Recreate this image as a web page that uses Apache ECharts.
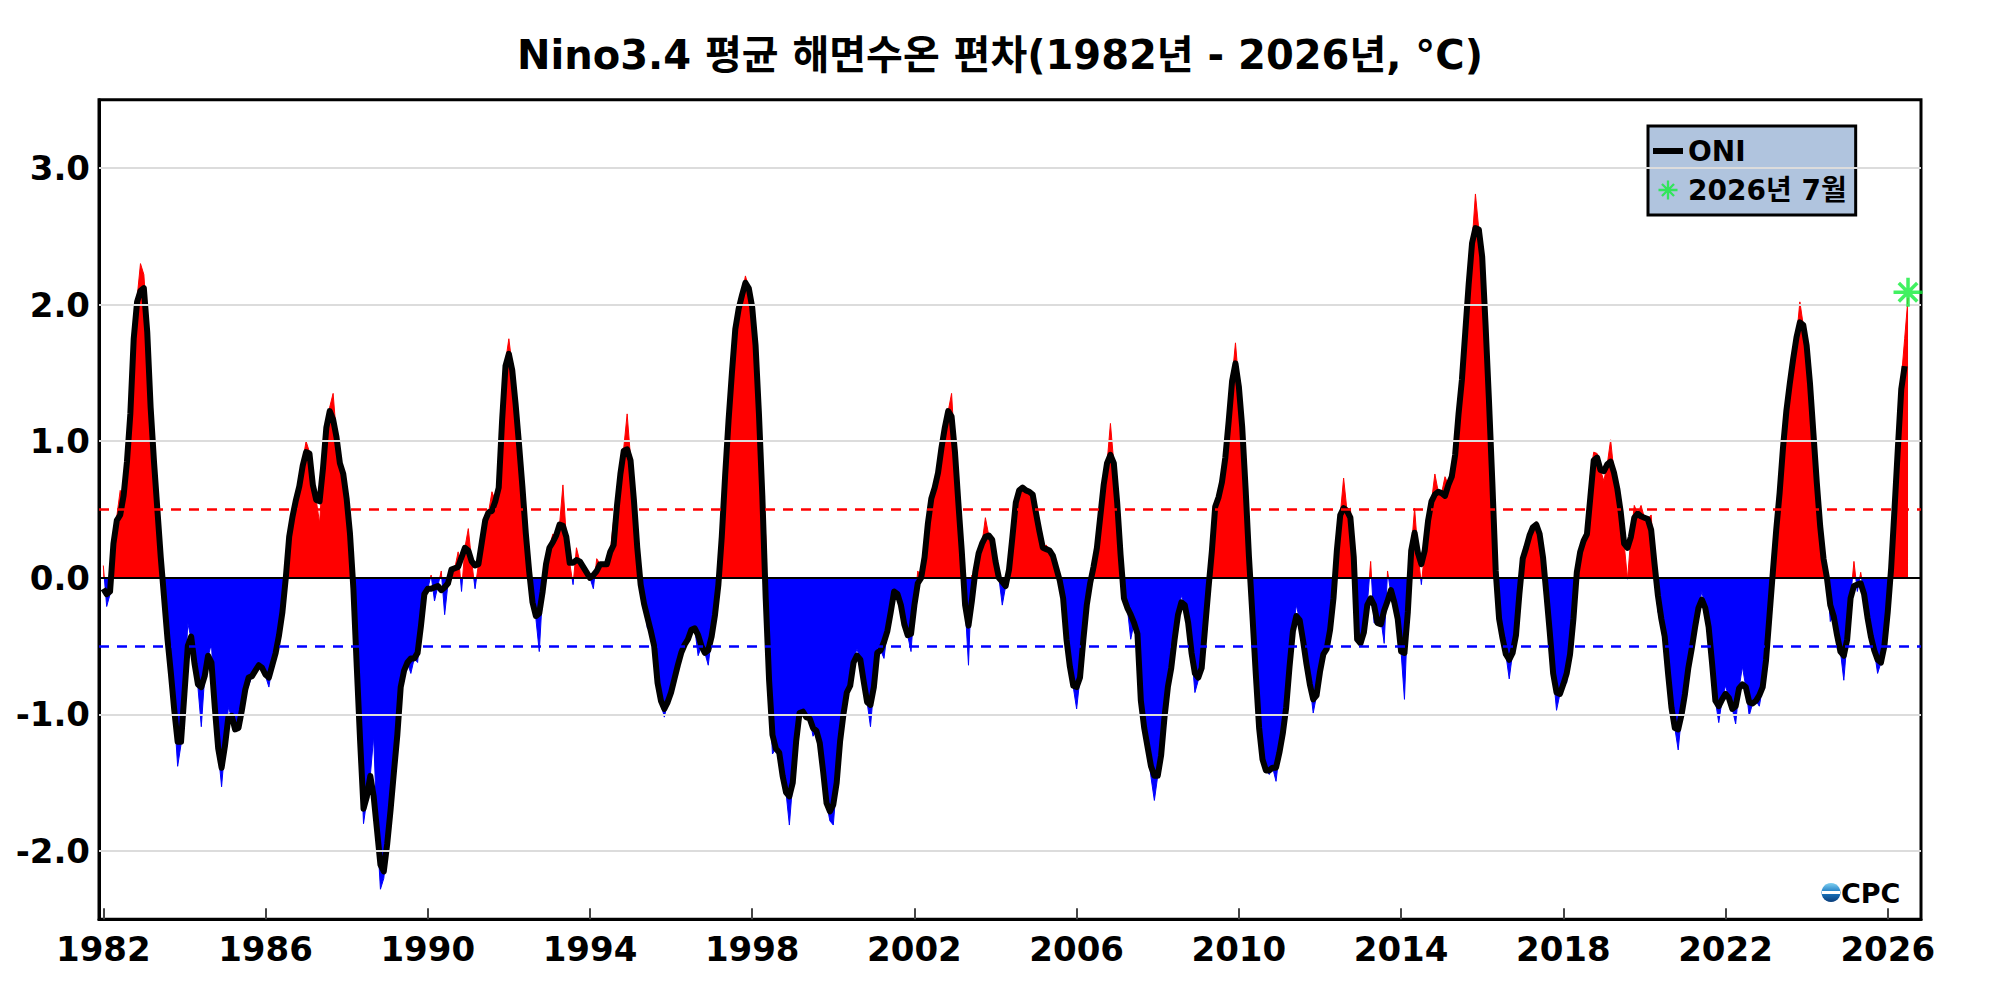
<!DOCTYPE html>
<html>
<head>
<meta charset="utf-8">
<script src="https://cdn.jsdelivr.net/npm/echarts@6/dist/echarts.min.js"></script>
<style>
html,body{margin:0;padding:0;background:#fff;}
#chart{width:2000px;height:1000px;}
</style>
</head>
<body>
<div id="chart"></div>
<script>
// ---------------- data ----------------
const startYear = 1982;               // first month = January 1982
const xTicks = [1982, 1986, 1990, 1994, 1998, 2002, 2006, 2010, 2014, 2018, 2022, 2026];
const yTicks = [-2, -1, 0, 1, 2, 3];
const thresholds = [0.5, -0.5];

// monthly Nino3.4 SST anomaly (filled area), one row per year
const monthlyAnomaly = [
  [0.09, -0.21, -0.12, 0.25, 0.45, 0.64, 0.6, 0.88, 1.25, 1.8, 2.05, 2.3],          // 1982
  [2.22, 1.85, 1.3, 0.85, 0.5, 0.15, -0.15, -0.45, -0.72, -1.0, -1.38, -1.22],     // 1983
  [-0.85, -0.33, -0.45, -0.65, -0.8, -1.09, -0.72, -0.58, -0.48, -0.97, -1.27, -1.53], // 1984
  [-1.23, -0.95, -1.02, -1.12, -1.1, -0.98, -0.83, -0.79, -0.72, -0.68, -0.64, -0.66], // 1985
  [-0.72, -0.8, -0.64, -0.55, -0.42, -0.25, 0.02, 0.3, 0.47, 0.58, 0.68, 0.85],    // 1986
  [1.0, 0.92, 0.68, 0.57, 0.4, 0.8, 1.12, 1.25, 1.35, 1.04, 0.85, 0.76],           // 1987
  [0.58, 0.34, 0.02, -0.65, -1.2, -1.8, -1.62, -1.45, -1.16, -1.85, -2.28, -2.2],  // 1988
  [-1.95, -1.7, -1.42, -1.15, -0.8, -0.68, -0.62, -0.7, -0.59, -0.62, -0.35, -0.12], // 1989
  [-0.08, 0.02, -0.17, -0.06, 0.05, -0.27, -0.04, 0.06, 0.07, 0.19, -0.1, 0.22],   // 1990
  [0.36, 0.12, -0.08, 0.1, 0.26, 0.42, 0.48, 0.63, 0.56, 0.68, 1.2, 1.58],         // 1991
  [1.75, 1.55, 1.28, 0.98, 0.67, 0.33, 0.05, -0.2, -0.3, -0.54, -0.1, 0.1],        // 1992
  [0.22, 0.32, 0.31, 0.39, 0.68, 0.3, 0.11, -0.05, 0.22, 0.12, 0.08, 0.04],        // 1993
  [0.0, -0.08, 0.14, 0.1, 0.1, 0.1, 0.19, 0.42, 0.53, 0.78, 0.95, 1.2],            // 1994
  [0.88, 0.58, 0.22, -0.05, -0.19, -0.37, -0.39, -0.5, -0.77, -0.92, -1.02, -0.91], // 1995
  [-0.84, -0.74, -0.64, -0.55, -0.49, -0.45, -0.38, -0.37, -0.57, -0.5, -0.55, -0.64], // 1996
  [-0.43, -0.27, -0.05, 0.3, 0.75, 1.15, 1.5, 1.82, 1.97, 2.08, 2.21, 2.12],       // 1997
  [1.98, 1.7, 1.2, 0.7, 0.3, -0.8, -1.29, -1.25, -1.28, -1.45, -1.57, -1.81],      // 1998
  [-1.5, -1.2, -0.99, -0.98, -1.02, -1.03, -1.16, -1.12, -1.21, -1.42, -1.65, -1.78], // 1999
  [-1.81, -1.5, -1.2, -1.0, -0.84, -0.79, -0.6, -0.52, -0.6, -0.76, -0.91, -1.09], // 2000
  [-0.8, -0.55, -0.53, -0.59, -0.39, -0.25, -0.1, -0.12, -0.2, -0.34, -0.42, -0.54], // 2001
  [-0.2, 0.05, 0.0, 0.15, 0.4, 0.63, 0.66, 0.77, 0.95, 1.1, 1.22, 1.35],           // 2002
  [0.92, 0.55, 0.2, -0.2, -0.64, 0.02, 0.04, 0.18, 0.25, 0.44, 0.31, 0.28],        // 2003
  [0.12, 0.0, -0.2, -0.06, 0.06, 0.3, 0.55, 0.64, 0.66, 0.64, 0.63, 0.61],         // 2004
  [0.47, 0.34, 0.22, 0.24, 0.2, 0.16, 0.07, -0.02, -0.15, -0.45, -0.65, -0.8],     // 2005
  [-0.96, -0.73, -0.45, -0.2, -0.04, 0.08, 0.22, 0.45, 0.68, 0.84, 1.13, 0.84],    // 2006
  [0.55, 0.17, -0.15, -0.22, -0.45, -0.33, -0.41, -0.9, -1.1, -1.24, -1.46, -1.63], // 2007
  [-1.45, -1.3, -1.02, -0.8, -0.66, -0.45, -0.27, -0.13, -0.2, -0.33, -0.55, -0.84], // 2008
  [-0.75, -0.66, -0.37, -0.08, 0.19, 0.52, 0.59, 0.7, 0.88, 1.15, 1.46, 1.72],     // 2009
  [1.42, 1.1, 0.65, 0.15, -0.27, -0.7, -1.1, -1.33, -1.41, -1.44, -1.39, -1.49],   // 2010
  [-1.28, -1.14, -0.95, -0.65, -0.39, -0.2, -0.31, -0.46, -0.63, -0.78, -0.99, -0.86], // 2011
  [-0.69, -0.56, -0.52, -0.38, -0.15, 0.2, 0.46, 0.73, 0.49, 0.51, 0.15, -0.45],   // 2012
  [-0.48, -0.4, -0.2, 0.12, -0.33, -0.33, -0.3, -0.48, 0.05, -0.12, -0.18, -0.3],  // 2013
  [-0.54, -0.89, -0.25, 0.2, 0.51, 0.18, -0.05, 0.2, 0.42, 0.56, 0.76, 0.63],      // 2014
  [0.62, 0.74, 0.68, 0.74, 0.9, 1.2, 1.45, 1.8, 2.15, 2.45, 2.81, 2.55],           // 2015
  [2.35, 1.85, 1.3, 0.7, 0.05, -0.3, -0.44, -0.56, -0.74, -0.55, -0.42, -0.12],    // 2016
  [0.14, 0.22, 0.31, 0.37, 0.41, 0.32, 0.15, -0.12, -0.4, -0.7, -0.97, -0.85],     // 2017
  [-0.78, -0.77, -0.56, -0.3, 0.04, 0.19, 0.27, 0.32, 0.75, 0.92, 0.91, 0.79],     // 2018
  [0.71, 0.83, 1.01, 0.77, 0.65, 0.48, 0.25, -0.01, 0.3, 0.53, 0.47, 0.53],        // 2019
  [0.44, 0.43, 0.46, 0.1, -0.25, -0.3, -0.43, -0.7, -0.95, -1.1, -1.26, -1.0],     // 2020
  [-0.85, -0.66, -0.52, -0.36, -0.22, -0.1, -0.22, -0.36, -0.62, -0.9, -1.06, -0.89], // 2021
  [-0.79, -0.88, -0.96, -1.07, -0.81, -0.65, -0.8, -1.01, -0.92, -0.9, -0.94, -0.8], // 2022
  [-0.6, -0.28, 0.04, 0.35, 0.62, 0.95, 1.22, 1.42, 1.6, 1.76, 2.02, 1.85],        // 2023
  [1.7, 1.42, 1.06, 0.7, 0.38, 0.14, 0.0, -0.32, -0.28, -0.42, -0.54, -0.75],      // 2024
  [-0.45, -0.15, 0.12, -0.1, 0.04, -0.12, -0.29, -0.43, -0.53, -0.7, -0.62, -0.5], // 2025
  [-0.3, 0.1, 0.55, 1.0, 1.45, 1.75, 2.05]                                         // 2026 (Jan-Jul)
];

// ONI (3-month running mean, black line), one row per year
const oniValues = [
  [-0.08, -0.12, -0.1, 0.25, 0.42, 0.46, 0.6, 0.85, 1.2, 1.75, 2.02, 2.1],         // 1982
  [2.12, 1.8, 1.25, 0.85, 0.5, 0.15, -0.15, -0.45, -0.7, -0.97, -1.2, -1.2],       // 1983
  [-0.85, -0.5, -0.43, -0.63, -0.78, -0.8, -0.72, -0.57, -0.62, -0.95, -1.25, -1.39], // 1984
  [-1.23, -1.02, -1.01, -1.11, -1.1, -0.97, -0.82, -0.73, -0.72, -0.68, -0.64, -0.66], // 1985
  [-0.71, -0.73, -0.64, -0.55, -0.42, -0.25, 0.0, 0.3, 0.45, 0.57, 0.67, 0.82],    // 1986
  [0.92, 0.91, 0.68, 0.57, 0.56, 0.8, 1.1, 1.22, 1.16, 1.03, 0.84, 0.76],          // 1987
  [0.58, 0.32, -0.08, -0.65, -1.2, -1.69, -1.6, -1.45, -1.6, -1.85, -2.1, -2.15],  // 1988
  [-1.95, -1.7, -1.42, -1.15, -0.8, -0.68, -0.62, -0.59, -0.59, -0.55, -0.35, -0.12], // 1989
  [-0.08, -0.08, -0.07, -0.06, -0.09, -0.07, -0.04, 0.06, 0.07, 0.08, 0.15, 0.22], // 1990
  [0.2, 0.12, 0.09, 0.1, 0.26, 0.42, 0.48, 0.49, 0.56, 0.66, 1.15, 1.55],          // 1991
  [1.64, 1.52, 1.27, 0.98, 0.67, 0.33, 0.05, -0.18, -0.28, -0.26, -0.1, 0.1],      // 1992
  [0.22, 0.26, 0.31, 0.39, 0.38, 0.3, 0.11, 0.11, 0.13, 0.12, 0.08, 0.04],         // 1993
  [0.0, 0.02, 0.05, 0.1, 0.1, 0.1, 0.19, 0.24, 0.53, 0.76, 0.93, 0.94],            // 1994
  [0.86, 0.57, 0.22, -0.05, -0.19, -0.29, -0.39, -0.5, -0.77, -0.9, -0.96, -0.91], // 1995
  [-0.84, -0.74, -0.64, -0.55, -0.49, -0.45, -0.38, -0.37, -0.42, -0.5, -0.55, -0.53], // 1996
  [-0.43, -0.27, -0.05, 0.3, 0.75, 1.15, 1.5, 1.82, 1.97, 2.07, 2.16, 2.12],       // 1997
  [1.98, 1.7, 1.2, 0.6, -0.15, -0.75, -1.15, -1.25, -1.28, -1.45, -1.57, -1.6],    // 1998
  [-1.5, -1.2, -0.99, -0.98, -1.02, -1.03, -1.1, -1.12, -1.21, -1.42, -1.65, -1.71], // 1999
  [-1.66, -1.5, -1.2, -1.0, -0.84, -0.79, -0.62, -0.57, -0.6, -0.76, -0.91, -0.93], // 2000
  [-0.8, -0.55, -0.53, -0.47, -0.39, -0.25, -0.1, -0.12, -0.2, -0.34, -0.42, -0.41], // 2001
  [-0.2, -0.04, 0.0, 0.15, 0.4, 0.58, 0.66, 0.77, 0.95, 1.1, 1.22, 1.18],          // 2002
  [0.92, 0.55, 0.2, -0.2, -0.35, -0.17, 0.04, 0.18, 0.25, 0.3, 0.31, 0.28],        // 2003
  [0.12, 0.0, -0.03, -0.06, 0.06, 0.3, 0.55, 0.64, 0.66, 0.64, 0.63, 0.61],        // 2004
  [0.47, 0.34, 0.22, 0.21, 0.2, 0.16, 0.07, -0.02, -0.15, -0.45, -0.65, -0.79],    // 2005
  [-0.8, -0.73, -0.45, -0.2, -0.04, 0.08, 0.22, 0.45, 0.68, 0.84, 0.9, 0.84],      // 2006
  [0.55, 0.17, -0.15, -0.22, -0.27, -0.33, -0.41, -0.9, -1.1, -1.24, -1.38, -1.45], // 2007
  [-1.45, -1.3, -1.02, -0.8, -0.66, -0.45, -0.27, -0.18, -0.2, -0.33, -0.55, -0.7], // 2008
  [-0.73, -0.66, -0.37, -0.08, 0.19, 0.52, 0.59, 0.7, 0.88, 1.15, 1.44, 1.57],     // 2009
  [1.4, 1.1, 0.65, 0.15, -0.27, -0.7, -1.1, -1.33, -1.41, -1.41, -1.39, -1.39],    // 2010
  [-1.28, -1.14, -0.95, -0.65, -0.39, -0.28, -0.31, -0.46, -0.63, -0.78, -0.89, -0.86], // 2011
  [-0.69, -0.56, -0.52, -0.38, -0.15, 0.2, 0.46, 0.51, 0.49, 0.44, 0.15, -0.45],   // 2012
  [-0.48, -0.4, -0.2, -0.15, -0.2, -0.33, -0.34, -0.24, -0.17, -0.09, -0.18, -0.3], // 2013
  [-0.54, -0.55, -0.25, 0.2, 0.33, 0.18, 0.1, 0.2, 0.42, 0.56, 0.61, 0.63],        // 2014
  [0.62, 0.6, 0.68, 0.74, 0.9, 1.2, 1.45, 1.8, 2.15, 2.45, 2.56, 2.55],            // 2015
  [2.35, 1.85, 1.3, 0.7, 0.05, -0.3, -0.44, -0.56, -0.6, -0.55, -0.42, -0.12],     // 2016
  [0.14, 0.22, 0.31, 0.37, 0.39, 0.32, 0.15, -0.12, -0.4, -0.7, -0.84, -0.85],     // 2017
  [-0.78, -0.7, -0.56, -0.3, 0.04, 0.19, 0.27, 0.32, 0.59, 0.86, 0.88, 0.79],      // 2018
  [0.78, 0.83, 0.85, 0.77, 0.65, 0.48, 0.25, 0.22, 0.3, 0.44, 0.47, 0.45],         // 2019
  [0.44, 0.43, 0.35, 0.1, -0.13, -0.3, -0.43, -0.7, -0.95, -1.1, -1.11, -1.0],     // 2020
  [-0.85, -0.66, -0.52, -0.36, -0.22, -0.16, -0.22, -0.36, -0.62, -0.9, -0.94, -0.89], // 2021
  [-0.85, -0.88, -0.96, -0.94, -0.81, -0.78, -0.8, -0.91, -0.92, -0.9, -0.86, -0.8], // 2022
  [-0.6, -0.28, 0.04, 0.35, 0.62, 0.95, 1.22, 1.42, 1.6, 1.76, 1.87, 1.85],        // 2023
  [1.7, 1.42, 1.06, 0.7, 0.38, 0.14, 0.0, -0.2, -0.28, -0.42, -0.54, -0.57],       // 2024
  [-0.45, -0.15, -0.06, -0.05, -0.04, -0.12, -0.29, -0.43, -0.53, -0.6, -0.62, -0.5], // 2025
  [-0.25, 0.07, 0.5, 0.95, 1.38, 1.55]                                             // 2026 (Jan-Jun)
];

// latest monthly value, marked with a green asterisk
const latestLabel = '2026년 7월';
const latestYear = 2026;
const latestMonth = 7;
const latestValue = 2.09;

const titleText = 'Nino3.4 평균 해면수온 편차(1982년 - 2026년, °C)';

// ---------------- build series data ----------------
function toSeries(rows) {
  const out = [];
  rows.forEach((row, yi) => {
    row.forEach((v, mi) => {
      out.push([startYear + yi + mi / 12, v]);
    });
  });
  return out;
}
const monthlyData = toSeries(monthlyAnomaly);
const oniData = toSeries(oniValues);
const latestData = [[latestYear + (latestMonth - 1) / 12, latestValue]];

const FONT = '"DejaVu Sans", "Noto Sans CJK KR", sans-serif';

// layout of the plotting area
const GRID = {left: 99, top: 99.7, width: 1822, height: 819.6};
const Y_MIN = -2.5, Y_MAX = 3.5;
const X_MIN = 1981.894, X_MAX = 2026.82;

// red above zero, blue below zero (hard stop at the zero level of the y axis)
const zeroFrac = (Y_MAX - 0) / (Y_MAX - Y_MIN);
const fillGradient = new echarts.graphic.LinearGradient(0, GRID.top, 0, GRID.top + GRID.height, [
  {offset: 0, color: '#ff0000'}, {offset: zeroFrac, color: '#ff0000'},
  {offset: zeroFrac, color: '#0000ff'}, {offset: 1, color: '#0000ff'}
], true);

// asterisk symbol (filled bars, same winding)
const starPath = 'path://' +
  'M-1.7,-14L1.7,-14L1.7,14L-1.7,14Z' +
  'M-14,-1.7L14,-1.7L14,1.7L-14,1.7Z' +
  'M-10.1,-7.7L-7.7,-10.1L10.1,7.7L7.7,10.1Z' +
  'M-7.7,10.1L-10.1,7.7L7.7,-10.1L10.1,-7.7Z';
const barPath = 'path://M0,0L30,0L30,6L0,6Z';

const chart = echarts.init(document.getElementById('chart'), null, {renderer: 'svg', width: 2000, height: 1000});

const option = {
  animation: false,
  backgroundColor: '#ffffff',
  title: {
    text: titleText,
    left: 'center',
    top: 30,
    textStyle: {fontFamily: FONT, fontSize: 40, fontWeight: 'bold', color: '#000'}
  },
  legend: {
    data: [{name: 'ONI', icon: barPath}, {name: latestLabel, icon: starPath}],
    orient: 'vertical',
    left: 1648,
    top: 126,
    itemWidth: 30,
    itemHeight: 19,
    itemGap: 11,
    padding: [11, 9, 11, 5],
    backgroundColor: '#b0c4de',
    borderColor: '#000',
    borderWidth: 3,
    borderRadius: 0,
    selectedMode: false,
    symbolKeepAspect: true,
    textStyle: {fontFamily: FONT, fontSize: 28, fontWeight: 'bold', color: '#000'}
  },
  grid: {
    left: GRID.left, top: GRID.top, width: GRID.width, height: GRID.height,
    show: true, borderColor: '#000', borderWidth: 3, backgroundColor: '#fff',
    containLabel: false, outerBoundsMode: 'none'
  },
  xAxis: {
    type: 'value',
    min: X_MIN,
    max: X_MAX,
    axisLine: {show: true, onZero: false, lineStyle: {color: '#000', width: 3}},
    axisTick: {show: true, inside: true, length: 11, customValues: xTicks, lineStyle: {color: '#444', width: 2}},
    axisLabel: {show: true, customValues: xTicks, margin: 13, formatter: v => String(v),
      fontFamily: FONT, fontSize: 34, fontWeight: 'bold', color: '#000'},
    splitLine: {show: false}
  },
  yAxis: {
    type: 'value',
    min: Y_MIN,
    max: Y_MAX,
    axisLine: {show: true, onZero: false, lineStyle: {color: '#000', width: 3}},
    axisTick: {show: true, inside: true, length: 11, customValues: yTicks, lineStyle: {color: '#444', width: 2}},
    axisLabel: {show: true, customValues: yTicks, margin: 9, formatter: v => v.toFixed(1),
      fontFamily: FONT, fontSize: 34, fontWeight: 'bold', color: '#000'},
    splitLine: {show: false}
  },
  series: [
    {
      name: 'grid', type: 'line', data: [], z: 1, silent: true,
      markLine: {
        silent: true, symbol: 'none', label: {show: false}, animation: false,
        data: yTicks.map(v => ({yAxis: v, lineStyle: {color: '#dcdcdc', width: 2, type: 'solid'}}))
          .concat([{yAxis: 0, lineStyle: {color: '#000', width: 2, type: 'solid'}}])
      }
    },
    {
      name: 'Nino3.4', type: 'line', data: monthlyData, z: 2,
      symbol: 'none', showSymbol: false, silent: true,
      lineStyle: {width: 1, color: fillGradient},
      itemStyle: {color: '#ff0000'},
      areaStyle: {opacity: 1, color: fillGradient, origin: 0},
      emphasis: {disabled: true}
    },
    {
      name: 'thresholds', type: 'line', data: [], z: 3, silent: true,
      markLine: {
        silent: true, symbol: 'none', label: {show: false}, animation: false,
        data: [
          {yAxis: thresholds[0], lineStyle: {color: '#ff0000', width: 2.5, type: [10, 8]}},
          {yAxis: thresholds[1], lineStyle: {color: '#0000ff', width: 2.5, type: [10, 8]}}
        ]
      }
    },
    {
      name: 'ONI', type: 'line', data: oniData, z: 4,
      symbol: 'none', showSymbol: false, silent: true,
      lineStyle: {color: '#000', width: 6, join: 'round'},
      itemStyle: {color: '#000'},
      emphasis: {disabled: true}
    },
    {
      name: latestLabel, type: 'scatter', data: latestData, z: 5,
      symbol: starPath, symbolSize: 29, symbolKeepAspect: true, silent: true,
      itemStyle: {color: '#11ee3a'},
      emphasis: {disabled: true}
    }
  ],
  graphic: [
    {
      type: 'circle', z: 10, silent: true,
      shape: {cx: 1831, cy: 892.5, r: 9.5},
      style: {fill: new echarts.graphic.LinearGradient(0, 0, 0, 1, [
        {offset: 0, color: '#7fd0f0'}, {offset: 0.5, color: '#1a78c2'}, {offset: 1, color: '#0b3d7a'}])}
    },
    {
      type: 'rect', z: 11, silent: true,
      shape: {x: 1822, y: 891, width: 18, height: 3},
      style: {fill: '#ffffff'}
    },
    {
      type: 'text', z: 10, silent: true, x: 1841, y: 893,
      style: {text: 'CPC', fontFamily: FONT, fontSize: 27, fontWeight: 'bold',
        verticalAlign: 'middle', align: 'left',
        fill: new echarts.graphic.LinearGradient(0, 0, 0, 1, [
          {offset: 0, color: '#6cc6ee'}, {offset: 0.5, color: '#1a6fb8'}, {offset: 1, color: '#0b3d7a'}])}
    }
  ]
};
chart.setOption(option);
</script>
</body>
</html>
